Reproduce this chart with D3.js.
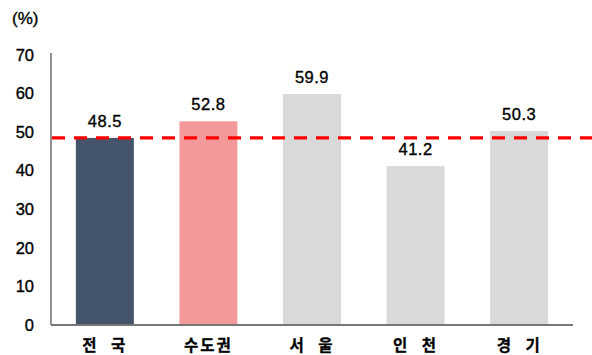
<!DOCTYPE html>
<html><head><meta charset="utf-8">
<script src="https://cdn.jsdelivr.net/npm/d3@7"></script>
<style>body{margin:0;background:#fff}svg{display:block}</style>
</head><body>
<svg id="c" width="592" height="355"></svg>
<script>
const categories = ["전 국", "수도권", "서 울", "인 천", "경 기"];
const values = [48.5, 52.8, 59.9, 41.2, 50.3];
const colors = ["#44546a", "#f4999a", "#d9d9d9", "#d9d9d9", "#d9d9d9"];
const yTicks = [0, 10, 20, 30, 40, 50, 60, 70];
const refValue = 48.5;

const svg = d3.select("#c");
const x = d3.scaleBand().domain(categories).range([51, 573]).paddingInner(0.44).paddingOuter(0.24);
const y = d3.scaleLinear().domain([0, 70]).range([325, 55]);
const font = "Arial, 'Liberation Sans', sans-serif";

// y axis
const ya = svg.append("g").attr("transform", "translate(51,0)")
  .call(d3.axisLeft(y).tickValues(yTicks).tickSize(0).tickPadding(17));
ya.select(".domain").attr("stroke", "#555").attr("stroke-width", 1.3).attr("d", "M0,53V325");
ya.selectAll("text").attr("font-family", font).attr("font-size", 16.5).attr("fill", "#000")
  .attr("stroke", "#000").attr("stroke-width", 0.35);

// bars
svg.append("g").selectAll("rect").data(values).join("rect")
  .attr("x", (d, i) => x(categories[i]))
  .attr("width", x.bandwidth())
  .attr("y", d => y(d))
  .attr("height", d => y(0) - y(d))
  .attr("fill", (d, i) => colors[i]);

// x axis
const xa = svg.append("g").attr("transform", "translate(0,325)")
  .call(d3.axisBottom(x).tickSize(0).tickPadding(15));
xa.select(".domain").attr("stroke", "#777").attr("stroke-width", 2).attr("d", "M51,0H573");
xa.selectAll("text").attr("font-family", "'Noto Sans CJK KR', sans-serif").attr("font-weight", "bold")
  .attr("font-size", 15.5).attr("fill", "#000")
  .attr("stroke", "#000").attr("stroke-width", 0.3)
  .attr("letter-spacing", 2).attr("word-spacing", 7);

// value labels
svg.append("g").selectAll("text").data(values).join("text")
  .attr("x", (d, i) => x(categories[i]) + x.bandwidth() / 2)
  .attr("y", d => y(d) - 11)
  .attr("text-anchor", "middle")
  .attr("font-family", font).attr("font-size", 16.5).attr("fill", "#000")
  .attr("stroke", "#000").attr("stroke-width", 0.35).attr("letter-spacing", 0.5)
  .text(d => d.toFixed(1));

// reference dashed line
svg.append("line")
  .attr("x1", 52).attr("x2", 592)
  .attr("y1", y(refValue)).attr("y2", y(refValue))
  .attr("stroke", "#ff0000").attr("stroke-width", 3.2)
  .attr("stroke-dasharray", "13,9");

// unit label
svg.append("text").attr("x", 12).attr("y", 24)
  .attr("font-family", font).attr("font-size", 17).attr("fill", "#000")
  .attr("stroke", "#000").attr("stroke-width", 0.35).text("(%)");
</script>
</body></html>
